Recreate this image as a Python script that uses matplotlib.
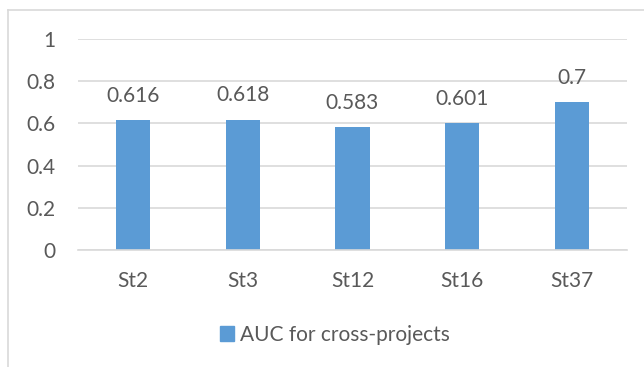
import matplotlib
matplotlib.use("Agg")
import matplotlib.pyplot as plt
from matplotlib.patches import Rectangle

categories = ["St2", "St3", "St12", "St16", "St37"]
auc_values = [0.616, 0.618, 0.583, 0.601, 0.7]
value_labels = ["0.616", "0.618", "0.583", "0.601", "0.7"]
y_ticks = [0, 0.2, 0.4, 0.6, 0.8, 1]
y_tick_labels = ["0", "0.2", "0.4", "0.6", "0.8", "1"]
series_name = "AUC for cross-projects"

plt.rcParams["font.family"] = ["Lato", "DejaVu Sans"]
text_color = "#595959"
grid_color = "#d9d9d9"
bar_color = "#5b9bd5"
fs = 15

W, H = 644, 367
fig = plt.figure(figsize=(W / 100, H / 100), dpi=100)

# chart frame (top and left edges visible)
fig.add_artist(plt.Line2D([8 / W, 8 / W], [0, 1 - 10 / H], color=grid_color, lw=1.2))
fig.add_artist(plt.Line2D([8 / W, 1], [1 - 10 / H, 1 - 10 / H], color=grid_color, lw=1.2))

left, right = 78 / W, 627 / W
bottom, top = 1 - 250 / H, 1 - 39 / H
ax = fig.add_axes([left, bottom, right - left, top - bottom])

x = range(len(categories))
bars = ax.bar(x, auc_values, width=0.31, color=bar_color, zorder=3)
for xi, v, lab in zip(x, auc_values, value_labels):
    ax.annotate(lab, (xi, v), xytext=(0, 13.3), textcoords="offset points",
                ha="center", va="baseline", fontsize=fs, color=text_color)

ax.set_xlim(-0.5, len(categories) - 0.5)
ax.set_ylim(0, 1)
ax.set_yticks(y_ticks)
ax.set_yticklabels(y_tick_labels)
ax.set_xticks(list(x))
ax.set_xticklabels(categories)
ax.tick_params(axis="both", length=0, labelsize=fs, colors=text_color)
ax.tick_params(axis="y", pad=16)
ax.tick_params(axis="x", pad=15)
ax.grid(axis="y", color=grid_color, lw=1.2, zorder=0)
for s in ["top", "right", "left"]:
    ax.spines[s].set_visible(False)
ax.spines["bottom"].set_color(grid_color)
ax.spines["bottom"].set_linewidth(1.2)
ax.spines["bottom"].set_zorder(4)

handle = Rectangle((0, 0), 1, 1, color=bar_color)
fig.legend([handle], [series_name], loc="center", bbox_to_anchor=(335 / W, 1 - 335 / H),
           frameon=False, fontsize=fs, labelcolor=text_color, handlelength=0.7,
           handleheight=0.7, handletextpad=0.3)

fig.savefig("out.png", dpi=100)
